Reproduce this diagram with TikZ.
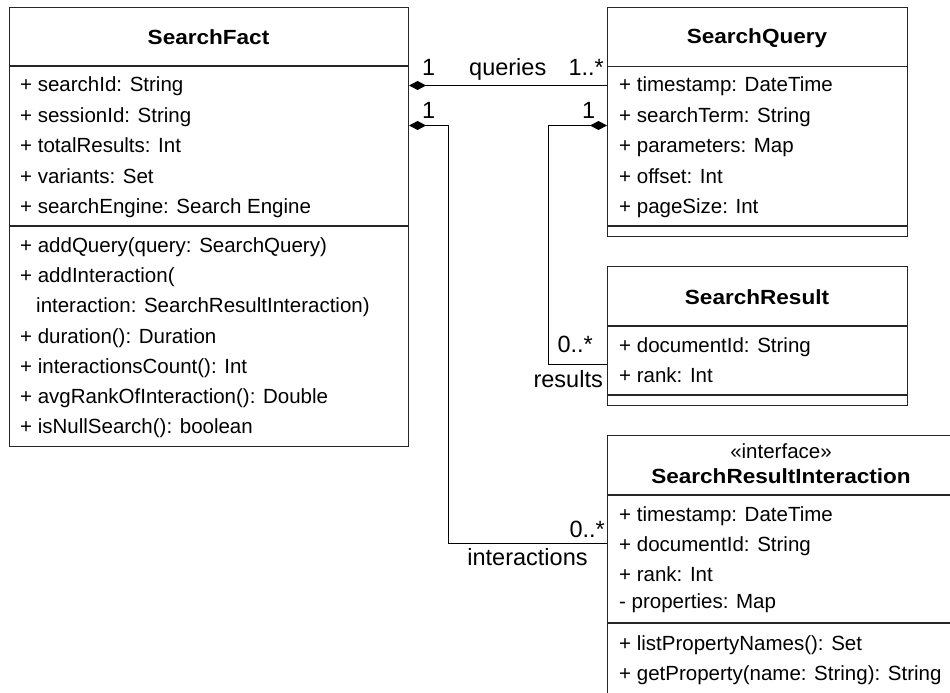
\documentclass[tikz,border=0pt]{standalone}
\usepackage{fontspec}
\setmainfont{Liberation Sans}[BoldFeatures={FakeStretch=1.1}]
\usetikzlibrary{arrows.meta}
\newcommand\umlfont{\fontsize{20.5}{24}\selectfont}
\newcommand\rolefont{\fontsize{23.5}{27}\selectfont}
\tikzset{
  classbox/.style={draw=black!85, line width=1.1pt, fill=white, anchor=north west, inner sep=0pt},
  divider/.style={draw=black!85, line width=1.1pt},
  member/.style={anchor=base west, inner sep=0pt, font=\umlfont},
  title/.style={anchor=base, inner sep=0pt, font=\umlfont\bfseries},
  stereo/.style={anchor=base, inner sep=0pt, font=\umlfont},
  role/.style={inner sep=0pt, font=\rolefont},
  composition/.style={draw=black, line width=1pt, {Diamond[length=17pt,width=9pt]}-}
}
\begin{document}
\begin{tikzpicture}[x=1pt, y=-1pt]
\useasboundingbox (0,0) rectangle (950,693);
\clip (0,0) rectangle (950,693);

% ---------- SearchFact ----------
\node[classbox, minimum width=399pt, minimum height=439pt] (sf) at (9,7) {};
\draw[divider] (9,66) -- (408,66);
\draw[divider] (9,226) -- (408,226);
\node[title] (sf-t) at (208.5,45) {SearchFact};
\node[member] (sf-a1) at (20,92)  {+ searchId: String};
\node[member] (sf-a2) at (20,122) {+ sessionId: String};
\node[member] (sf-a3) at (20,152) {+ totalResults: Int};
\node[member] (sf-a4) at (20,183) {+ variants: Set};
\node[member] (sf-a5) at (20,213) {+ searchEngine: Search Engine};
\node[member] (sf-m1) at (20,252) {+ addQuery(query: SearchQuery)};
\node[member] (sf-m2) at (20,282) {+ addInteraction(};
\node[member] (sf-m3) at (36,312) {interaction: SearchResultInteraction)};
\node[member] (sf-m4) at (20,343) {+ duration(): Duration};
\node[member] (sf-m5) at (20,373) {+ interactionsCount(): Int};
\node[member] (sf-m6) at (20,403) {+ avgRankOfInteraction(): Double};
\node[member] (sf-m7) at (20,433) {+ isNullSearch(): boolean};

% ---------- SearchQuery ----------
\node[classbox, minimum width=300pt, minimum height=229pt] (sq) at (607,7) {};
\draw[divider] (607,66.5) -- (907,66.5);
\draw[divider] (607,226) -- (907,226);
\node[title] (sq-t) at (757,44) {SearchQuery};
\node[member] (sq-a1) at (619,92)  {+ timestamp: DateTime};
\node[member] (sq-a2) at (619,122) {+ searchTerm: String};
\node[member] (sq-a3) at (619,152) {+ parameters: Map};
\node[member] (sq-a4) at (619,183) {+ offset: Int};
\node[member] (sq-a5) at (619,213) {+ pageSize: Int};

% ---------- SearchResult ----------
\node[classbox, minimum width=300pt, minimum height=139pt] (sr) at (607,266) {};
\draw[divider] (607,326) -- (907,326);
\draw[divider] (607,395) -- (907,395);
\node[title] (sr-t) at (757,304) {SearchResult};
\node[member] (sr-a1) at (619,352) {+ documentId: String};
\node[member] (sr-a2) at (619,382) {+ rank: Int};

% ---------- SearchResultInteraction ----------
\node[classbox, minimum width=360pt, minimum height=270pt] (sri) at (607,435) {};
\draw[divider] (607,495) -- (967,495);
\draw[divider] (607,623) -- (967,623);
\node[stereo] (sri-s) at (781,458) {«interface»};
\node[title] (sri-t) at (781,483) {SearchResultInteraction};
\node[member] (sri-a1) at (619,521) {+ timestamp: DateTime};
\node[member] (sri-a2) at (619,551) {+ documentId: String};
\node[member] (sri-a3) at (619,581) {+ rank: Int};
\node[member] (sri-a4) at (619,608) {- properties: Map};
\node[member] (sri-m1) at (619,650) {+ listPropertyNames(): Set};
\node[member] (sri-m2) at (619,680) {+ getProperty(name: String): String};

% ---------- compositions ----------
\coordinate (qy) at (0,85.5);
\coordinate (cy) at (0,125.5);
\coordinate (ix) at (448,0);
\coordinate (iy) at (0,543);
\coordinate (rx) at (548,0);
\coordinate (ry) at (0,364);

\draw[composition] (sf.east |- qy) -- (sq.west |- qy);
\draw[composition] (sf.east |- cy) -| (ix |- iy) -- (sri.west |- iy);
\draw[composition] (sq.west |- cy) -| (rx |- ry) -- (sr.west |- ry);

% multiplicities and role names
\node[role, anchor=base west] (m-q1) at (422,75) {1};
\node[role, anchor=base west] (r-q) at (469,75) {queries};
\node[role, anchor=base east] (m-q2) at (604,75) {1..*};
\node[role, anchor=base west] (m-i1) at (422,118) {1};
\node[role, anchor=base west] (m-r1) at (582,118) {1};
\node[role, anchor=base east] (m-r2) at (593,352) {0..*};
\node[role, anchor=base east] (r-r) at (603,387) {results};
\node[role, anchor=base east] (m-i2) at (605,537) {0..*};
\node[role, anchor=base] (r-i) at (527.5,565) {interactions};
\end{tikzpicture}
\end{document}
